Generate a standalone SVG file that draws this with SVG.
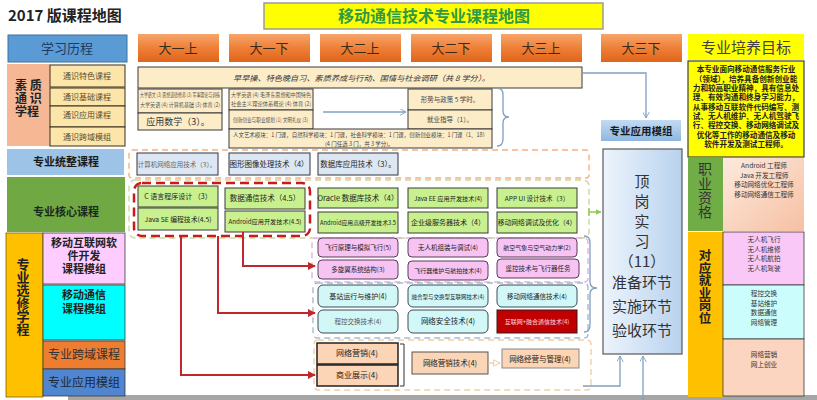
<svg xmlns="http://www.w3.org/2000/svg" width="817" height="400" viewBox="0 0 817 400">
<defs>
<linearGradient id="og" x1="0" y1="0" x2="0" y2="1"><stop offset="0" stop-color="#f7a56c"/><stop offset="0.5" stop-color="#ef7f36"/><stop offset="1" stop-color="#df651b"/></linearGradient>
<linearGradient id="bg" x1="0" y1="0" x2="1" y2="0"><stop offset="0" stop-color="#edf4fc"/><stop offset="1" stop-color="#b8d2ee"/></linearGradient>
<linearGradient id="pg" x1="0" y1="0" x2="1" y2="1"><stop offset="0" stop-color="#fdeade"/><stop offset="1" stop-color="#f6c0a2"/></linearGradient>
<linearGradient id="hb" x1="0" y1="0" x2="0" y2="1"><stop offset="0" stop-color="#c3dbf2"/><stop offset="1" stop-color="#8fb7e0"/></linearGradient>
<marker id="arRed" viewBox="0 0 10 10" refX="9" refY="5" markerWidth="4" markerHeight="4" orient="auto"><path d="M0,0 L10,5 L0,10 Z" fill="#c0272d"/></marker>
<marker id="arBlue" viewBox="0 0 10 10" refX="9" refY="5" markerWidth="7" markerHeight="7" orient="auto" markerUnits="userSpaceOnUse"><path d="M0,0 L9,5 L0,10" fill="none" stroke="#7f9fc0" stroke-width="1.2"/></marker>
<marker id="arGreen" viewBox="0 0 10 10" refX="9" refY="5" markerWidth="6" markerHeight="6" orient="auto" markerUnits="userSpaceOnUse"><path d="M0,0 L10,5 L0,10 Z" fill="#92c85a"/></marker>
<marker id="arTan" viewBox="0 0 10 10" refX="9" refY="5" markerWidth="8" markerHeight="8" orient="auto" markerUnits="userSpaceOnUse"><path d="M1,1 L9,5 L1,9 Z" fill="#fff" stroke="#f0c89a" stroke-width="1.2"/></marker>
</defs>
<style>
text{font-family:"Noto Sans CJK SC","Liberation Sans",sans-serif;fill:#222;}
.c{text-anchor:middle;}
.b{font-weight:bold;}
.v{writing-mode:vertical-rl;text-orientation:upright;}
.hd{fill:url(#og);}
.hdt{font-size:13px;fill:#3a2a1a;text-anchor:middle;}
.ty{fill:#fbe5a8;stroke:#3a2e1e;stroke-width:1;}
.tyt{font-size:8px;fill:#5a4a2a;text-anchor:middle;}
.cr{fill:#fcecc8;stroke:#3a3a3a;stroke-width:1;}
.sm{font-size:5.5px;fill:#555;}
.gb{fill:#dde7f3;stroke:#2f3540;stroke-width:1;}
.gr{fill:#c8f08f;stroke:#3a3a3a;stroke-width:1;}
.pk{fill:#f7c3f3;stroke:#5a3a5a;stroke-width:1;}
.cy{fill:#d2f7f7;stroke:#3a4a5a;stroke-width:1;}
.pe{fill:#fbd5b5;stroke:#222;stroke-width:1.5;}
.bt{font-size:6.6px;text-anchor:middle;fill:#333;}
.dash{fill:none;stroke-width:1.4;stroke-dasharray:6 4;}
.red{fill:none;stroke:#c0272d;stroke-width:2;}
.blu{fill:none;stroke:#7f9fc0;stroke-width:1.3;}
</style>

<rect x="0" y="0" width="817" height="400" fill="#ffffff"/>
<rect x="68" y="395" width="749" height="5" fill="#a6a6a6"/>

<g id="title"><text x="8" y="21" font-size="15" class="b" fill="#111">2017 版课程地图</text></g>

<g id="main-title">
<rect x="264" y="3" width="339" height="26" fill="#ffff00" stroke="#9a9a9a" stroke-width="1.5"/>
<text x="434" y="22" font-size="16" class="c b" style="fill:#2e9a46">移动通信技术专业课程地图</text>
</g>

<g id="hdr-xuexi"><rect x="8" y="35" width="119" height="27" fill="#5b9bd5" stroke="#41719c"/><text x="67" y="53" font-size="13" class="c" style="fill:#1f3864">学习历程</text></g>
<g id="hdr-1a"><rect x="138" y="34" width="81" height="28" class="hd"/><text x="178" y="53" class="hdt">大一上</text></g>
<g id="hdr-1b"><rect x="229" y="34" width="81" height="28" class="hd"/><text x="269" y="53" class="hdt">大一下</text></g>
<g id="hdr-2a"><rect x="320" y="34" width="81" height="28" class="hd"/><text x="360" y="53" class="hdt">大二上</text></g>
<g id="hdr-2b"><rect x="411" y="34" width="81" height="28" class="hd"/><text x="451" y="53" class="hdt">大二下</text></g>
<g id="hdr-3a"><rect x="501" y="34" width="81" height="28" class="hd"/><text x="541" y="53" class="hdt">大三上</text></g>
<g id="hdr-3b"><rect x="601" y="34" width="81" height="28" class="hd"/><text x="641" y="53" class="hdt">大三下</text></g>
<g id="hdr-goal"><rect x="688" y="34" width="116" height="26" fill="#ffff00"/><text x="746" y="53" font-size="15" class="c" style="fill:#404040">专业培养目标</text></g>

<g id="suzhi">
<rect x="7" y="64" width="43" height="82" fill="#f6b894"/>
<text font-size="12" class="b"><tspan x="15" y="90">素 质</tspan><tspan x="15" y="103">通 识</tspan><tspan x="15" y="116">学程</tspan></text>
</g>
<g id="ts1"><rect x="50" y="65" width="75" height="22" class="ty"/><text x="87" y="79" class="tyt">通识特色课程</text></g>
<g id="ts2"><rect x="50" y="88" width="75" height="18" class="ty"/><text x="87" y="100" class="tyt">通识基础课程</text></g>
<g id="ts3"><rect x="50" y="106" width="75" height="21" class="ty"/><text x="87" y="118" class="tyt">通识应用课程</text></g>
<g id="ts4"><rect x="50" y="127" width="75" height="19" class="ty"/><text x="87" y="140" class="tyt">通识跨域模组</text></g>

<g id="zaocao"><rect x="138" y="67" width="444" height="21" class="cr"/><text x="233" y="81" font-size="7.5" textLength="257" lengthAdjust="spacingAndGlyphs" style="fill:#333;font-style:italic">早早操、特色晚自习、素质养成与行动、国情与社会调研（共 8 学分）。</text></g>

<g id="c1a-list"><rect x="138" y="89" width="84" height="24" class="cr"/>
<text class="sm"><tspan x="140" y="97" textLength="80" lengthAdjust="spacingAndGlyphs">大学语文 (3) 思想道德修养 (3) 军事理论与训练</tspan><tspan x="140" y="106.5" textLength="80" lengthAdjust="spacingAndGlyphs">大学英语 (4) 计算机基础 (3) 体育 (2)</tspan></text></g>
<g id="c1a-math"><rect x="138" y="113" width="84" height="17" class="cr"/><text x="178" y="125" font-size="9" class="c" style="fill:#333">应用数学（3）。</text></g>
<g id="c1b-list"><rect x="229" y="89" width="84" height="21" class="cr"/>
<text class="sm"><tspan x="231" y="96.5" textLength="80" lengthAdjust="spacingAndGlyphs">大学英语 (4) 毛泽东思想和中国特色</tspan><tspan x="231" y="105.5" textLength="80" lengthAdjust="spacingAndGlyphs">社会主义理论体系概论 (4) 体育 (2)</tspan></text></g>
<g id="c1b-li"><rect x="229" y="110" width="84" height="19" class="cr"/><text x="233" y="122" class="sm" textLength="75" lengthAdjust="spacingAndGlyphs">创新创业与职业规划 (1) 文明礼仪 (3)</text></g>
<g id="xingshi"><rect x="408" y="89" width="84" height="21" class="cr"/><text x="450" y="102" font-size="6.5" class="c" style="fill:#444">形势与政策 5 学时。</text></g>
<g id="jiuye"><rect x="408" y="110" width="84" height="19" class="cr"/><text x="450" y="122" font-size="6.5" class="c" style="fill:#444">就业指导（1）。</text></g>
<g id="renwen"><rect x="229" y="129" width="263" height="19" class="cr"/>
<text font-size="5.5" style="fill:#444"><tspan x="233" y="136.5" textLength="255" lengthAdjust="spacingAndGlyphs">人文艺术模块：1 门课，自然科学模块：1 门课，社会科学模块：1 门课，创新创业模块：1 门课（1、18）</tspan><tspan x="325" y="145.5">(4 门任选 3 门，共 3 学分)。</tspan></text></g>

<g id="app-module"><rect x="601" y="120" width="80" height="21" fill="url(#hb)"/><text x="641" y="135" font-size="10.5" class="c b" style="fill:#1a1a1a">专业应用模组</text></g>
<g id="dinggang"><rect x="603" y="149" width="79" height="205" fill="url(#bg)" stroke="#595959" stroke-width="1.2"/>
<text x="642" y="174" font-size="15" class="v" style="fill:#333;letter-spacing:5px">顶岗实习</text>
<text x="642" y="267" font-size="15" class="c" style="fill:#333">（11）</text>
<text x="642" y="288" font-size="15" class="c" style="fill:#333">准备环节</text>
<text x="642" y="312" font-size="15" class="c" style="fill:#333">实施环节</text>
<text x="642" y="336" font-size="15" class="c" style="fill:#333">验收环节</text></g>

<g id="goal-text"><rect x="688" y="61" width="116" height="96" fill="#ffff00" stroke="#404040" stroke-width="1.2"/>
<text font-size="7.6" class="c b">
<tspan x="746" y="72">本专业面向移动通信服务行业</tspan><tspan x="746" y="82">（领域），培养具备创新创业能</tspan><tspan x="746" y="91">力和较高职业精神，具有信息处</tspan><tspan x="746" y="100">理、有效沟通和终身学习能力，</tspan><tspan x="746" y="110">从事移动互联软件代码编写、测</tspan><tspan x="746" y="119">试、无人机维护、无人机驾驶飞</tspan><tspan x="746" y="128">行、程控交换、移动网络调试及</tspan><tspan x="746" y="138">优化等工作的移动通信及移动</tspan><tspan x="746" y="147">软件开发及测试工程师。</tspan></text></g>

<g id="zhiye"><rect x="688" y="158" width="35" height="73" fill="#70ad47"/>
<text x="705" y="162" font-size="14" class="v" style="fill:#333;letter-spacing:0.3px">职业资格</text></g>
<g id="zhiye-list"><rect x="723" y="158" width="81" height="73" fill="url(#pg)"/>
<text class="bt"><tspan x="764" y="168">Android 工程师</tspan><tspan x="764" y="177.5">Java 开发工程师</tspan><tspan x="764" y="187">移动网络优化工程师</tspan><tspan x="764" y="196.5">移动网络通信工程师</tspan></text></g>

<g id="gangwei"><rect x="688" y="232" width="35" height="165" fill="#ffc000"/>
<text x="705" y="249" font-size="12.5" class="v b">对应就业岗位</text></g>
<g id="gw-drone"><rect x="723" y="232" width="81" height="53" fill="#f9c8f6" stroke="#3a3a3a" stroke-width="0.8"/>
<text class="bt"><tspan x="764" y="242">无人机飞行</tspan><tspan x="764" y="251.5">无人机维修</tspan><tspan x="764" y="261">无人机航拍</tspan><tspan x="764" y="270.5">无人机驾驶</tspan></text></g>
<g id="gw-comm"><rect x="723" y="285" width="81" height="54" fill="#ccfdfd" stroke="#3a3a3a" stroke-width="0.8"/>
<text class="bt"><tspan x="764" y="296">程控交换</tspan><tspan x="764" y="305.5">基站维护</tspan><tspan x="764" y="315">数据通信</tspan><tspan x="764" y="324.5">网络管理</tspan></text></g>
<g id="gw-net"><rect x="723" y="339" width="81" height="57" fill="#fbd5c0" stroke="#3a3a3a" stroke-width="0.8"/>
<text class="bt"><tspan x="764" y="357">网络营销</tspan><tspan x="764" y="366.5">网上创业</tspan></text></g>

<g id="tongzheng"><rect x="7" y="149" width="117" height="26" fill="#9dc3e6"/><text x="66" y="166" font-size="11" class="c b" style="fill:#1a1a1a">专业统整课程</text></g>
<g id="hexin"><rect x="7" y="177" width="118" height="55" fill="#70a843"/><text x="66" y="216" font-size="11" class="c b" style="fill:#1a2a1a">专业核心课程</text></g>
<g id="xuanxiu"><rect x="6" y="233" width="37" height="164" fill="#ffc000" stroke="#7f6000" stroke-width="0.8"/>
<text x="23" y="258" font-size="13" class="v b">专业选修学程</text></g>
<g id="m-soft"><rect x="43" y="233" width="82" height="51" fill="#ffccff" stroke="#3a3a3a" stroke-width="0.8"/>
<text font-size="11" class="c b"><tspan x="84" y="247">移动互联网软</tspan><tspan x="84" y="260">件开发</tspan><tspan x="84" y="273">课程模组</tspan></text></g>
<g id="m-comm"><rect x="43" y="285" width="82" height="55" fill="#00ffff" stroke="#3a3a3a" stroke-width="0.8"/>
<text font-size="11" class="c b"><tspan x="84" y="299">移动通信</tspan><tspan x="84" y="313">课程模组</tspan></text></g>
<g id="m-cross"><rect x="43" y="341" width="82" height="28" fill="#ed7d31" stroke="#3a3a3a" stroke-width="0.8"/><text x="84" y="359" font-size="12" class="c" style="fill:#333">专业跨域课程</text></g>
<g id="m-app"><rect x="43" y="369" width="82" height="27" fill="#4f86cf" stroke="#3a3a3a" stroke-width="0.8"/><text x="84" y="387" font-size="12" class="c" style="fill:#1a2a3a">专业应用模组</text></g>

<g id="groups">
<rect x="129" y="150" width="460" height="28" rx="3" class="dash" stroke="#f4b183"/>
<rect x="129" y="180" width="460" height="58" rx="6" class="dash" stroke="#c9d8a0"/>
<rect x="134" y="183" width="176" height="53" rx="8" fill="none" stroke="#cc1a1a" stroke-width="2.5" stroke-dasharray="9 5"/>
<rect x="312" y="238" width="276" height="44" rx="4" class="dash" stroke="#e4b0e4"/>
<rect x="313" y="283" width="275" height="55" rx="4" class="dash" stroke="#a8bccf"/>
<rect x="314" y="340" width="277" height="50" rx="4" class="dash" stroke="#f2cfa4"/>
</g>

<g id="tz-net"><rect x="137" y="153" width="81" height="22" class="gb"/><text x="177" y="167" font-size="6.5" class="c" style="fill:#666">计算机网络应用技术（3）。</text></g>
<g id="tz-img"><rect x="229" y="153" width="81" height="22" class="gb"/><text x="269" y="167" font-size="7.5" class="c">图形图像处理技术（4）</text></g>
<g id="tz-db"><rect x="318" y="153" width="80" height="22" class="gb"/><text x="358" y="167" font-size="7.5" class="c">数据库应用技术（3）。</text></g>

<g id="hx-c"><rect x="138" y="186" width="80" height="21" class="gr"/><text x="178" y="199" font-size="7" class="c">C 语言程序设计 （3）</text></g>
<g id="hx-java"><rect x="138" y="208" width="80" height="22" class="gr"/><text x="178" y="222" font-size="6.8" class="c">Java SE 编程技术(4.5)</text></g>
<g id="hx-data"><rect x="225" y="188" width="80" height="21" class="gr"/><text x="265" y="201" font-size="7.5" class="c">数据通信技术（4.5）</text></g>
<g id="hx-and"><rect x="225" y="211" width="80" height="21" class="gr"/><text x="265" y="224" font-size="6.2" class="c">Android应用开发技术(4.5)</text></g>
<g id="hx-ora"><rect x="318" y="188" width="80" height="20" class="gr"/><text x="358" y="201" font-size="7.5" class="c">Oracle 数据库技术（4）</text></g>
<g id="hx-and2"><rect x="318" y="212" width="80" height="21" class="gr"/><text x="358" y="225" font-size="5.8" class="c">Android应用高级开发技术3.5</text></g>
<g id="hx-jee"><rect x="408" y="188" width="80" height="20" class="gr"/><text x="448" y="201" font-size="6.2" class="c">Java EE 应用开发技术(4)</text></g>
<g id="hx-srv"><rect x="408" y="212" width="80" height="21" class="gr"/><text x="448" y="225" font-size="7" class="c">企业级服务器技术（4）</text></g>
<g id="hx-ui"><rect x="497" y="188" width="80" height="20" class="gr"/><text x="537" y="201" font-size="6.5" class="c">APP UI 设计技术（3）</text></g>
<g id="hx-opt"><rect x="497" y="212" width="80" height="21" class="gr"/><text x="537" y="225" font-size="6.8" class="c">移动网络调试及优化（4）</text></g>

<g id="p1"><rect x="318" y="238" width="80" height="19" rx="4" class="pk"/><text x="358" y="250" font-size="6.5" class="c">飞行原理与模拟飞行(5)</text></g>
<g id="p2"><rect x="408" y="238" width="80" height="19" rx="4" class="pk"/><text x="448" y="250" font-size="6.5" class="c">无人机组装与调试(4)</text></g>
<g id="p3"><rect x="497" y="238" width="80" height="19" rx="4" class="pk"/><text x="537" y="250" font-size="6" class="c">航空气象与空气动力学(2)</text></g>
<g id="p4"><rect x="318" y="260" width="80" height="19" rx="4" class="pk"/><text x="358" y="272" font-size="6.5" class="c">多旋翼系统结构(3)</text></g>
<g id="p5"><rect x="408" y="261" width="80" height="19" rx="4" class="pk"/><text x="448" y="273" font-size="6" class="c">飞行器维护与航拍技术(4)</text></g>
<g id="p6"><rect x="497" y="259" width="82" height="19" rx="4" class="pk"/><text x="538" y="271" font-size="6.5" class="c">遥控技术与飞行器任务</text></g>

<g id="q1"><rect x="318" y="285" width="80" height="22" rx="5" class="cy"/><text x="358" y="299" font-size="7" class="c">基站运行与维护(4)</text></g>
<g id="q2"><rect x="408" y="285" width="80" height="22" rx="5" class="cy"/><text x="448" y="299" font-size="5.5" class="c">融合型与交换型互联网技术(4)</text></g>
<g id="q3"><rect x="497" y="285" width="80" height="22" rx="5" class="cy"/><text x="537" y="299" font-size="6.5" class="c">移动网络通信技术(4)</text></g>
<g id="q4"><rect x="318" y="310" width="80" height="23" rx="5" class="cy"/><text x="358" y="324" font-size="6.5" class="c" style="fill:#555">程控交换技术(4)</text></g>
<g id="q5"><rect x="408" y="310" width="80" height="23" rx="5" class="cy"/><text x="448" y="324" font-size="7.5" class="c">网络安全技术(4)</text></g>
<g id="q6"><rect x="497" y="310" width="80" height="23" fill="#c00000" stroke="#3a1a1a"/><text x="537" y="324" font-size="6" class="c" style="fill:#ffd8d8">互联网+融合通信技术(4)</text></g>

<g id="b1"><rect x="317" y="343" width="81" height="21" class="pe"/><text x="357" y="356" font-size="8" class="c">网络营销(4)</text></g>
<g id="b2"><rect x="317" y="365" width="81" height="21" class="pe"/><text x="357" y="378" font-size="8" class="c">商业展示(4)</text></g>
<g id="b3"><rect x="412" y="352" width="76" height="22" fill="#fbd5b5" stroke="#555" stroke-width="1"/><text x="450" y="366" font-size="7.5" class="c">网络营销技术(4)</text></g>
<g id="b4"><rect x="502" y="349" width="77" height="19" fill="#fbd5b5" stroke="#888" stroke-width="1"/><text x="540" y="362" font-size="7.5" class="c">网络经营与管理(4)</text></g>

<g id="connectors">
<path d="M323,112 H406" class="blu" marker-end="url(#arBlue)"/>
<path d="M497,88 Q503,88 503,95 L503,111 Q503,117 509,117 Q503,117 503,123 L503,139 Q503,146 497,146" class="blu"/>
<path d="M582,73 H646 V118" class="blu" marker-end="url(#arBlue)"/>
<path d="M584,236 Q590,236 590,243 L590,282 Q590,288 597,288 Q590,288 590,294 L590,325 Q590,332 584,332" class="blu"/>
<path d="M589,208 V216 M589,212 H601" fill="none" stroke="#92c85a" stroke-width="1.4" marker-end="url(#arGreen)"/>
<path d="M583,386 H620 V356" class="blu" marker-end="url(#arBlue)"/>
<path d="M643,400 V356" class="blu" marker-end="url(#arBlue)"/>
<path d="M181,236 V375 H315" class="red" marker-end="url(#arRed)"/>
<path d="M218,236 V313 H315" class="red" marker-end="url(#arRed)"/>
<path d="M243,232 V266 H315" class="red" marker-end="url(#arRed)"/>
<path d="M400,344 H404 V386 H400" fill="none" stroke="#333" stroke-width="1"/>
<path d="M488,363 H500" fill="none" stroke="#f0c89a" stroke-width="1.2" marker-end="url(#arTan)"/>
</g>
</svg>
